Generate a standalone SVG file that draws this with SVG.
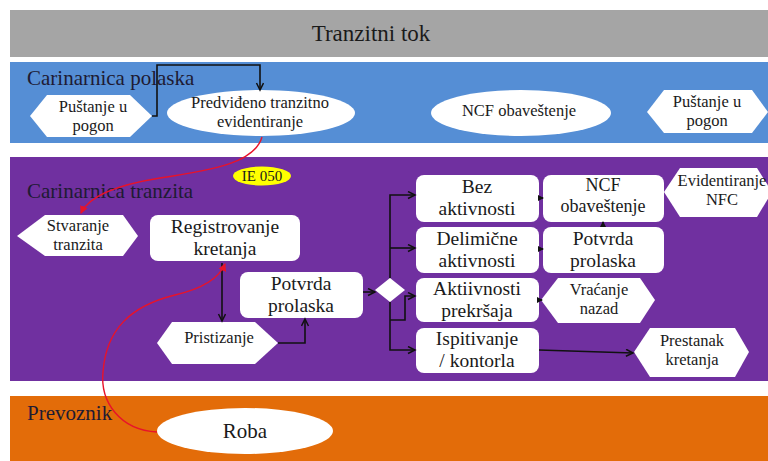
<svg xmlns="http://www.w3.org/2000/svg" width="768" height="461" viewBox="0 0 768 461" font-family="Liberation Serif, DejaVu Serif, serif">
<style>
text{fill:#1a1a1a;text-anchor:middle}
.lbl{text-anchor:start;font-size:21px;fill:#1e1b33}
.w{fill:#fff}
.s16{font-size:16.5px}
.s20{font-size:19.5px}
.ln{fill:none;stroke:#111;stroke-width:1.6}
.red{fill:none;stroke:#e8132a;stroke-width:1.4}
</style>
<defs>
<marker id="ah" markerWidth="10" markerHeight="10" refX="8" refY="4" orient="auto" markerUnits="userSpaceOnUse">
<path d="M1,0.5 L8,4 L1,7.5" fill="none" stroke="#111" stroke-width="1.5"/>
</marker>
<marker id="ahs" markerWidth="8" markerHeight="8" refX="5" refY="3" orient="auto" markerUnits="userSpaceOnUse">
<path d="M0,0 L6,3 L0,6 z" fill="#111"/>
</marker>
<marker id="ahr" markerWidth="10" markerHeight="10" refX="7" refY="4" orient="auto" markerUnits="userSpaceOnUse">
<path d="M0,0 L8,4 L0,8 z" fill="#e8132a"/>
</marker>
</defs>

<g id="bands">
<rect x="10" y="10" width="758" height="47" fill="#a5a5a5"/>
<text x="371" y="41" font-size="23">Tranzitni tok</text>
<rect x="10" y="62" width="758" height="81" fill="#558ed5"/>
<text class="lbl" x="27" y="85">Carinarnica  polaska</text>
<rect x="10" y="157" width="758" height="224" fill="#7030a0"/>
<text class="lbl" x="27" y="198">Carinarnica  tranzita</text>
<rect x="10" y="396" width="758" height="65" fill="#e36c09"/>
<text class="lbl" x="27" y="420">Prevoznik</text>
</g>

<g id="n-pustanje1">
<polygon class="w" points="30,116 47,95 130,95 152,116 130,137 47,137"/>
<text class="s16" x="93" y="112">Puštanje u</text>
<text class="s16" x="93" y="131">pogon</text>
</g>
<g id="n-predvideno">
<ellipse class="w" cx="261" cy="113" rx="94" ry="23"/>
<text class="s16" x="260" y="108">Predviđeno tranzitno</text>
<text class="s16" x="260" y="127">evidentiranje</text>
</g>
<g id="n-ncf1">
<ellipse class="w" cx="521" cy="113" rx="90" ry="23"/>
<text class="s16" x="519" y="116">NCF obaveštenje</text>
</g>
<g id="n-pustanje2">
<polygon class="w" points="647,112 664,90 752,90 768,112 752,133 664,133"/>
<text class="s16" x="707" y="107">Puštanje u</text>
<text class="s16" x="707" y="126">pogon</text>
</g>

<g id="n-ie050">
<ellipse cx="262" cy="176" rx="29" ry="9.5" fill="#ffff00"/>
<text x="262" y="181" font-size="15">IE 050</text>
</g>
<g id="n-stvaranje">
<polygon class="w" points="17,236 45,215 123,215 138,236 123,256 45,256"/>
<text class="s16" x="78" y="231">Stvaranje</text>
<text class="s16" x="78" y="250">tranzita</text>
</g>
<g id="n-registrovanje">
<rect class="w" x="150" y="215" width="150" height="46" rx="8"/>
<text class="s20" x="225" y="233">Registrovanje</text>
<text class="s20" x="225" y="255">kretanja</text>
</g>
<g id="n-potvrda1">
<rect class="w" x="240" y="272" width="123" height="46" rx="8"/>
<text class="s20" x="301" y="290">Potvrda</text>
<text class="s20" x="301" y="312">prolaska</text>
</g>
<g id="n-pristizanje">
<polygon class="w" points="157,343 172,322 255,322 278,343 255,364 172,364"/>
<text class="s16" x="219" y="343">Pristizanje</text>
</g>
<g id="n-diamond">
<polygon class="w" points="390,278 405,290 390,302 375,290"/>
</g>
<g id="n-bez">
<rect class="w" x="416" y="175" width="123" height="47" rx="8"/>
<text class="s20" x="477" y="193">Bez</text>
<text class="s20" x="477" y="215">aktivnosti</text>
</g>
<g id="n-delimicne">
<rect class="w" x="416" y="227" width="123" height="46" rx="8"/>
<text class="s20" x="477" y="245">Delimične</text>
<text class="s20" x="477" y="267">aktivnosti</text>
</g>
<g id="n-aktiivnosti">
<rect class="w" x="416" y="278" width="123" height="44" rx="8"/>
<text class="s20" x="477" y="295">Aktiivnosti</text>
<text class="s20" x="477" y="317">prekršaja</text>
</g>
<g id="n-ispitivanje">
<rect class="w" x="416" y="328" width="123" height="45" rx="8"/>
<text class="s20" x="477" y="345">Ispitivanje</text>
<text class="s20" x="477" y="367">/ kontorla</text>
</g>
<g id="n-ncf2">
<rect class="w" x="543" y="175" width="121" height="47" rx="8"/>
<text font-size="18" x="603" y="191">NCF</text>
<text font-size="18" x="603" y="212">obaveštenje</text>
</g>
<g id="n-potvrda2">
<rect class="w" x="543" y="227" width="121" height="46" rx="8"/>
<text class="s20" x="603" y="245">Potvrda</text>
<text class="s20" x="603" y="267">prolaska</text>
</g>
<g id="n-vracanje">
<polygon class="w" points="541,300 558,278 640,278 655,300 640,323 558,323"/>
<text class="s16" x="599" y="295">Vraćanje</text>
<text class="s16" x="599" y="314">nazad</text>
</g>
<g id="n-evidentiranje">
<polygon class="w" points="664,192 680,168 757,168 772,192 757,217 680,217"/>
<text class="s16" x="722" y="186">Evidentiranje</text>
<text class="s16" x="722" y="205">NFC</text>
</g>
<g id="n-prestanak">
<polygon class="w" points="634,352 650,328 735,328 749,352 735,377 650,377"/>
<text class="s16" x="692" y="346">Prestanak</text>
<text class="s16" x="692" y="365">kretanja</text>
</g>
<g id="n-roba">
<ellipse class="w" cx="245" cy="431" rx="88" ry="23"/>
<text font-size="21" x="245" y="438">Roba</text>
</g>

<g id="connectors">
<path class="ln" d="M152,116 H157 V65 H260 V90" marker-end="url(#ah)"/>
<path class="ln" d="M222,263 V321" marker-end="url(#ah)"/>
<path class="ln" d="M278,343 H305 V319" marker-end="url(#ah)"/>
<path class="ln" d="M363,292 H375" marker-end="url(#ah)"/>
<path class="ln" d="M390,278 V195 H415" marker-end="url(#ah)"/>
<path class="ln" d="M390,248 H415" marker-end="url(#ah)"/>
<path class="ln" d="M390,302 V350 H415" marker-end="url(#ah)"/>
<path class="ln" d="M390,320 H405 V296 H415" marker-end="url(#ah)"/>
<path class="ln" d="M539,198 H543" marker-end="url(#ahs)"/>
<path class="ln" d="M539,249 H543" marker-end="url(#ahs)"/>
<path class="ln" d="M539,300 H542" marker-end="url(#ahs)"/>
<path class="ln" d="M603,227 V222" marker-end="url(#ahs)"/>
<path class="ln" d="M539,350 L633,353" marker-end="url(#ah)"/>
<path class="red" d="M262,137 C255,162 215,170 160,178 C110,186 88,198 81,213" marker-end="url(#ahr)"/>
<path class="red" d="M157,432 C120,430 100,402 103,372 C106,330 130,306 175,295 C205,288 220,276 225,264" marker-end="url(#ahr)"/>
</g>
</svg>
